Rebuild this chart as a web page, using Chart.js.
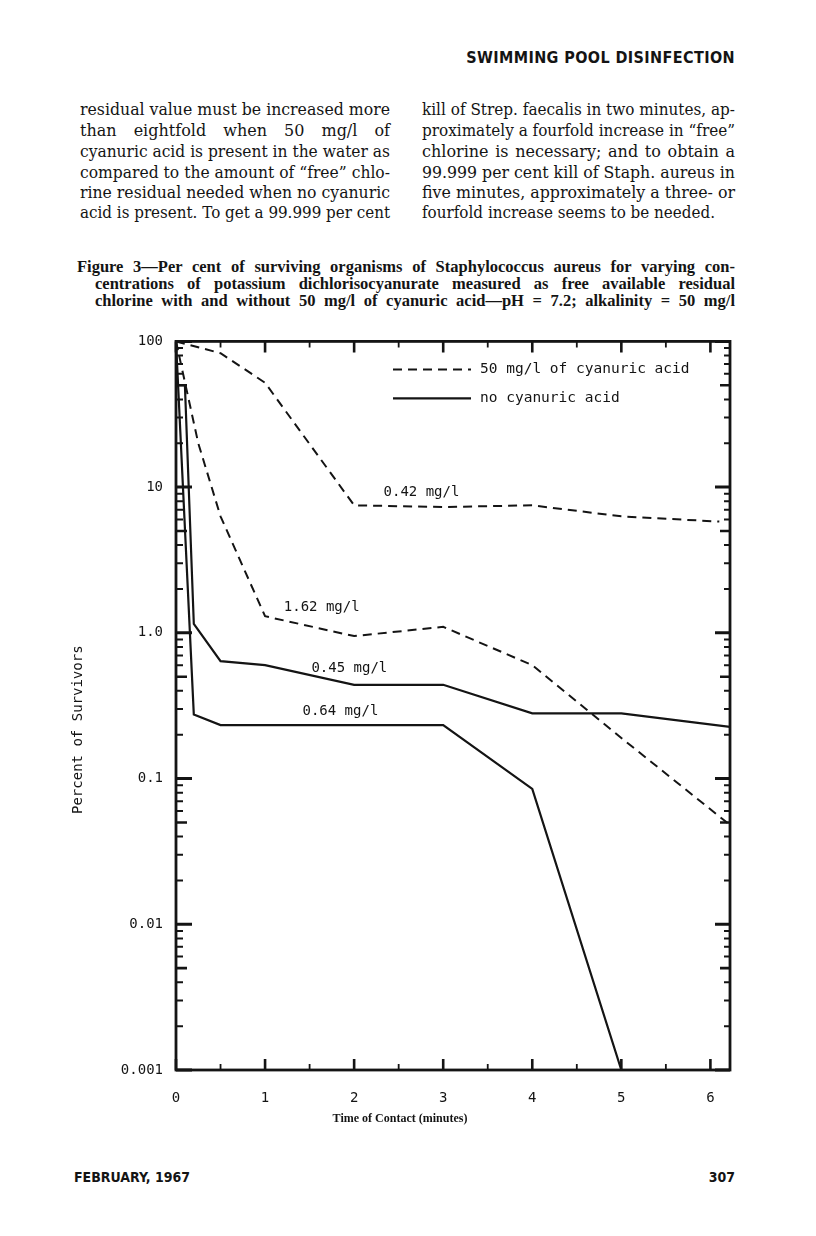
<!DOCTYPE html>
<html><head><meta charset="utf-8">
<script src="https://cdn.jsdelivr.net/npm/chart.js@4.4.1/dist/chart.umd.min.js"></script>
<style>
html,body{margin:0;padding:0;background:#fff;}
body{width:816px;height:1236px;position:relative;overflow:hidden;color:#141414;}
.t{position:absolute;white-space:nowrap;display:inline-block;}
.hdr{font:bold 16px "Liberation Sans Narrow","DejaVu Sans Condensed","Liberation Sans",sans-serif;letter-spacing:0.4px;}
.body{font:16px "DejaVu Serif","Liberation Serif",serif;line-height:20px;}
.cap{font:bold 16.5px "Liberation Serif","DejaVu Serif",serif;line-height:17px;}
.foot{font:bold 14px "Liberation Sans Narrow","DejaVu Sans Condensed","Liberation Sans",sans-serif;line-height:16px;}
#wrap{position:absolute;left:0;top:320px;width:816px;height:820px;}
</style>
</head><body>
<span class="t hdr" data-right="735" style="top:48px">SWIMMING POOL DISINFECTION</span>

<span class="t body" data-l="80" data-w="310" data-j="1" style="top:100px">residual value must be increased more</span>
<span class="t body" data-l="80" data-w="310" data-j="1" style="top:121px">than eightfold when 50 mg/l of</span>
<span class="t body" data-l="80" data-w="310" data-j="1" style="top:142px">cyanuric acid is present in the water as</span>
<span class="t body" data-l="80" data-w="310" data-j="1" style="top:163px">compared to the amount of “free” chlo-</span>
<span class="t body" data-l="80" data-w="310" data-j="1" style="top:183px">rine residual needed when no cyanuric</span>
<span class="t body" data-l="80" data-w="310" data-j="1" style="top:203px">acid is present. To get a 99.999 per cent</span>

<span class="t body" data-l="422" data-w="313" data-j="1" style="top:100px">kill of Strep. faecalis in two minutes, ap-</span>
<span class="t body" data-l="422" data-w="313" data-j="1" style="top:121px">proximately a fourfold increase in “free”</span>
<span class="t body" data-l="422" data-w="313" data-j="1" style="top:142px">chlorine is necessary; and to obtain a</span>
<span class="t body" data-l="422" data-w="313" data-j="1" style="top:163px">99.999 per cent kill of Staph. aureus in</span>
<span class="t body" data-l="422" data-w="313" data-j="1" style="top:183px">five minutes, approximately a three- or</span>
<span class="t body" data-l="422" data-w="293" data-j="0" style="top:203px">fourfold increase seems to be needed.</span>

<span class="t cap" data-l="77" data-w="658" data-j="1" style="top:258px">Figure 3—Per cent of surviving organisms of Staphylococcus aureus for varying con-</span>
<span class="t cap" data-l="95" data-w="640" data-j="1" style="top:275px">centrations of potassium dichlorisocyanurate measured as free available residual</span>
<span class="t cap" data-l="95" data-w="640" data-j="1" style="top:292px">chlorine with and without 50 mg/l of cyanuric acid—pH = 7.2; alkalinity = 50 mg/l</span>

<div id="wrap"><canvas id="c" width="816" height="820"></canvas></div>

<span class="t foot" data-l="74" data-w="120" data-j="0" style="top:1169px">FEBRUARY, 1967</span>
<span class="t foot" data-right="735" style="top:1169px">307</span>

<script>
// ---------- data ----------
const xTickValues = [0, 1, 2, 3, 4, 5, 6];
const yTickValues = [100, 10, 1, 0.1, 0.01, 0.001];
const yTickLabels = ['100', '10', '1.0', '0.1', '0.01', '0.001'];

// 50 mg/l cyanuric acid, 0.42 mg/l
const cyan042Time  = [0, 0.5, 1, 2, 3, 4, 5, 6.1];
const cyan042Value = [100, 83, 52, 7.5, 7.3, 7.5, 6.3, 5.8];
// 50 mg/l cyanuric acid, 1.62 mg/l
const cyan162Time  = [0, 0.25, 0.5, 1, 2, 3, 4, 5, 6.22];
const cyan162Value = [100, 20, 6.3, 1.3, 0.95, 1.1, 0.6, 0.19, 0.048];
// no cyanuric acid, 0.45 mg/l
const none045Time  = [0, 0.1, 0.2, 0.5, 1, 2, 3, 4, 5, 6.22];
const none045Value = [50, 50, 1.15, 0.64, 0.60, 0.44, 0.44, 0.28, 0.28, 0.226];
// no cyanuric acid, 0.64 mg/l
const none064Time  = [0, 0.2, 0.5, 1, 2, 3, 4, 5];
const none064Value = [100, 0.275, 0.233, 0.233, 0.233, 0.233, 0.085, 0.001];

const legendLabels = ['50 mg/l of cyanuric acid', 'no cyanuric acid'];
const curveLabels  = ['0.42 mg/l', '1.62 mg/l', '0.45 mg/l', '0.64 mg/l'];
const curveLabelAt = [[2.33, 9.2], [1.21, 1.49], [1.52, 0.574], [1.42, 0.288]];

// ---------- text fitting ----------
document.querySelectorAll('.t').forEach(el => {
  const w = el.getBoundingClientRect().width;
  if (el.dataset.right) { el.style.left = (+el.dataset.right - w) + 'px'; return; }
  el.style.left = el.dataset.l + 'px';
  const W = +el.dataset.w;
  if (w > W) { el.style.transformOrigin = '0 0'; el.style.transform = 'scaleX(' + (W / w) + ')'; }
  else if (el.dataset.j === '1') {
    const n = (el.textContent.match(/ /g) || []).length;
    if (n) el.style.wordSpacing = ((W - w) / n) + 'px';
  }
});

// ---------- chart ----------
const INK = '#141414';
const MONO = '"DejaVu Sans Mono", "Liberation Mono", monospace';
const pts = (t, v) => t.map((x, i) => ({ x: x, y: v[i] }));
const dash = [9, 6];

const framePlugin = {
  id: 'frame',
  afterDatasetsDraw(chart) {
    const ctx = chart.ctx, ca = chart.chartArea, xs = chart.scales.x, ys = chart.scales.y;
    ctx.save();
    ctx.strokeStyle = INK; ctx.lineCap = 'butt';
    ctx.lineWidth = 2.8;
    ctx.strokeRect(ca.left, ca.top, ca.right - ca.left, ca.bottom - ca.top);
    for (let k = 0; k <= 12; k++) {
      const t = k / 2, px = xs.getPixelForValue(t), major = k % 2 === 0;
      const len = major ? 11 : 6;
      ctx.lineWidth = major ? 2.6 : 1.8;
      ctx.beginPath();
      ctx.moveTo(px, ca.bottom); ctx.lineTo(px, ca.bottom - len);
      ctx.moveTo(px, ca.top); ctx.lineTo(px, ca.top + len);
      ctx.stroke();
    }
    for (let d = -3; d <= 2; d++) {
      for (let m = 1; m <= 9; m++) {
        if (d === 2 && m > 1) break;
        const v = m * Math.pow(10, d), py = ys.getPixelForValue(v);
        const lenL = m === 1 ? 16 : (m === 5 ? 11 : 7);
        const lenR = m === 1 ? 15 : (m === 5 ? 10 : 6);
        ctx.lineWidth = m === 1 ? 3 : (m === 5 ? 2.6 : 2);
        ctx.beginPath();
        ctx.moveTo(ca.left, py); ctx.lineTo(ca.left + lenL, py);
        ctx.moveTo(ca.right, py); ctx.lineTo(ca.right - lenR, py);
        ctx.stroke();
      }
    }
    ctx.restore();
  },
  afterDraw(chart) {
    const ctx = chart.ctx, ca = chart.chartArea, xs = chart.scales.x, ys = chart.scales.y;
    ctx.save();
    ctx.fillStyle = INK; ctx.strokeStyle = INK;
    ctx.font = '14px ' + MONO;
    ctx.textAlign = 'left'; ctx.textBaseline = 'middle';
    curveLabels.forEach((s, i) => {
      ctx.fillText(s, xs.getPixelForValue(curveLabelAt[i][0]), ys.getPixelForValue(curveLabelAt[i][1]));
    });
    const lx0 = ca.left + 217, lx1 = ca.left + 295, ly0 = ca.top + 28, ly1 = ca.top + 57;
    ctx.lineWidth = 2;
    ctx.setLineDash(dash);
    ctx.beginPath(); ctx.moveTo(lx0, ly0); ctx.lineTo(lx1, ly0); ctx.stroke();
    ctx.setLineDash([]);
    ctx.lineWidth = 2.2;
    ctx.beginPath(); ctx.moveTo(lx0, ly1); ctx.lineTo(lx1, ly1); ctx.stroke();
    ctx.font = '14.5px ' + MONO;
    ctx.fillText(legendLabels[0], ca.left + 304, ly0);
    ctx.fillText(legendLabels[1], ca.left + 304, ly1);
    ctx.font = '14px ' + MONO;
    ctx.textAlign = 'center';
    ctx.save();
    ctx.translate(ca.left - 98, (ca.top + ca.bottom) / 2 + 24);
    ctx.rotate(-Math.PI / 2);
    ctx.fillText('Percent of Survivors', 0, 0);
    ctx.restore();
    ctx.font = 'bold 12px "Liberation Serif", "DejaVu Serif", serif';
    ctx.fillText('Time of Contact (minutes)', ca.left + 224, ca.bottom + 49);
    ctx.restore();
  }
};

new Chart(document.getElementById('c'), {
  type: 'line',
  data: {
    datasets: [
      { label: '0.42 mg/l (cyanuric)', data: pts(cyan042Time, cyan042Value), borderColor: INK, borderWidth: 2, borderDash: dash },
      { label: '1.62 mg/l (cyanuric)', data: pts(cyan162Time, cyan162Value), borderColor: INK, borderWidth: 2, borderDash: dash },
      { label: '0.45 mg/l', data: pts(none045Time, none045Value), borderColor: INK, borderWidth: 2.2 },
      { label: '0.64 mg/l', data: pts(none064Time, none064Value), borderColor: INK, borderWidth: 2.2 }
    ]
  },
  options: {
    responsive: false,
    animation: false,
    devicePixelRatio: 1,
    layout: { padding: { top: 16, right: 86, bottom: 0, left: 0 } },
    elements: { point: { radius: 0 }, line: { tension: 0, fill: false, borderCapStyle: 'butt' } },
    plugins: { legend: { display: false }, tooltip: { enabled: false } },
    scales: {
      x: {
        type: 'linear', min: 0, max: 6.22,
        grid: { display: false, drawTicks: false }, border: { display: false },
        afterBuildTicks: s => { s.ticks = xTickValues.map(v => ({ value: v })); },
        afterFit: s => { s.height = 70; },
        ticks: { padding: 20, color: INK, font: { family: MONO, size: 14 }, callback: v => String(v), maxRotation: 0 }
      },
      y: {
        type: 'logarithmic', min: 0.001, max: 100,
        grid: { display: false, drawTicks: false }, border: { display: false },
        afterBuildTicks: s => { s.ticks = yTickValues.map(v => ({ value: v })); },
        afterFit: s => { s.width = 176; },
        ticks: { padding: 13, color: INK, font: { family: MONO, size: 14 },
          callback: function (v) { const i = yTickValues.findIndex(t => Math.abs(t - v) / t < 1e-6); return i >= 0 ? yTickLabels[i] : ''; } }
      }
    }
  },
  plugins: [framePlugin]
});
</script>
</body></html>
